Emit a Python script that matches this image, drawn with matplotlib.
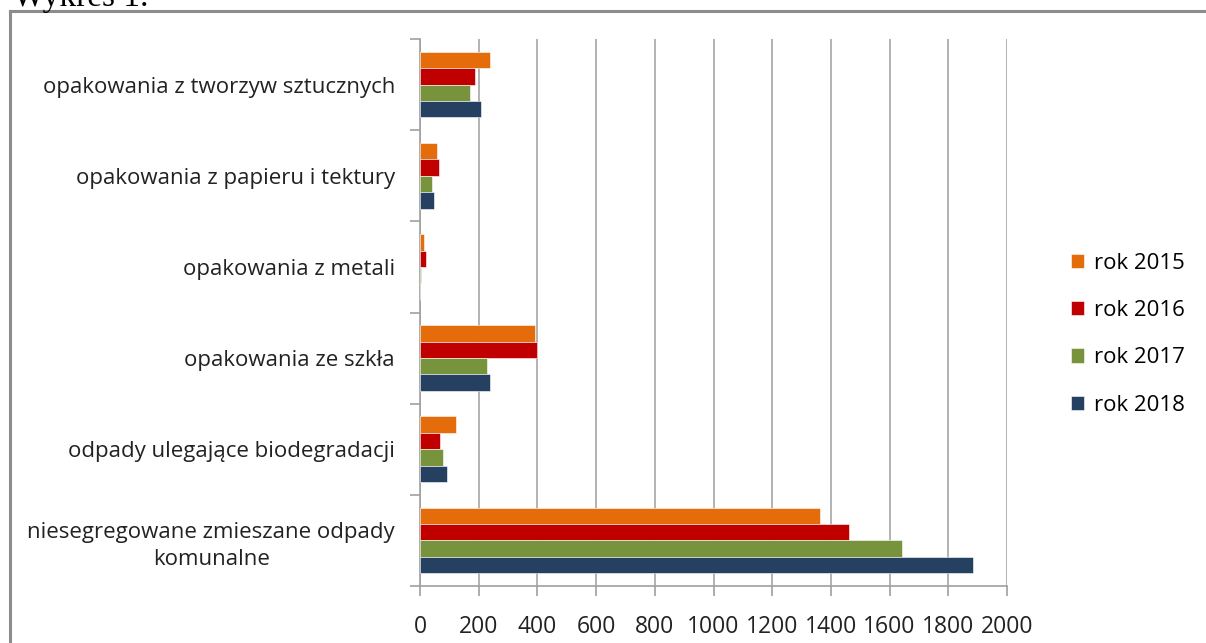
import matplotlib
matplotlib.use("Agg")
import matplotlib.pyplot as plt
import numpy as np
from matplotlib.lines import Line2D

categories = [
    "niesegregowane zmieszane odpady\nkomunalne",
    "odpady ulegające biodegradacji",
    "opakowania ze szkła",
    "opakowania z metali",
    "opakowania z papieru i tektury",
    "opakowania z tworzyw sztucznych",
]
series_names = ["rok 2015", "rok 2016", "rok 2017", "rok 2018"]
v2015 = [1364, 124, 393, 15, 57, 237]
v2016 = [1460, 69, 399, 19, 65, 187]
v2017 = [1641, 78, 229, 5, 40, 170]
v2018 = [1885, 91, 237, 0, 48, 208]
colors = ["#E46C0A", "#C00000", "#77933C", "#254061"]
xticks = [0, 200, 400, 600, 800, 1000, 1200, 1400, 1600, 1800, 2000]

W, H = 1206, 643
fig = plt.figure(figsize=(W / 100, H / 100), dpi=100)
fig.patch.set_facecolor("white")

font = ["Open Sans", "DejaVu Sans"]
plt.rcParams["font.family"] = font
FS = 16

ax_l, ax_r, ax_t, ax_b = 420, 1007, 39, 586
ax = fig.add_axes([ax_l / W, 1 - ax_b / H, (ax_r - ax_l) / W, (ax_b - ax_t) / H])

y = np.arange(len(categories))
bh = 0.18
data = [v2015, v2016, v2017, v2018]
offsets = [1.5 * bh, 0.5 * bh, -0.5 * bh, -1.5 * bh]
handles = []
for vals, off, c, name in zip(data, offsets, colors, series_names):
    b = ax.barh(y + off, vals, height=bh, color=c, edgecolor="white", linewidth=0.4, label=name, zorder=3)
    handles.append(b)

ax.set_xlim(0, 2000)
ax.set_ylim(-0.5, len(categories) - 0.5)
ax.set_xticks(xticks)
ax.set_xticklabels([str(t) for t in xticks], fontsize=16.5, color="#222222")
ax.set_yticks(y)
ax.set_yticklabels(categories, fontsize=FS, color="#222222", multialignment="center", linespacing=1.4)
ax.set_yticks(np.arange(-0.5, len(categories), 1.0), minor=True)
ax.tick_params(axis="y", which="major", length=0, pad=18)
ax.tick_params(axis="y", which="minor", length=7, width=1.2, color="#a0a0a0", direction="out")
ax.tick_params(axis="x", length=7, width=1.2, color="#a0a0a0", direction="out", pad=14)
ax.grid(axis="x", color="#a6a6a6", linewidth=1.2, zorder=0)
for s in ["top", "right"]:
    ax.spines[s].set_visible(False)
for s in ["left", "bottom"]:
    ax.spines[s].set_color("#a0a0a0")
    ax.spines[s].set_linewidth(1.2)

leg = fig.legend(handles=handles, labels=series_names, loc="upper left",
                 bbox_to_anchor=(1062 / W, 1 - 244 / H), frameon=False,
                 fontsize=FS, handlelength=0.6, handleheight=0.6,
                 handletextpad=0.45, labelspacing=1.18, borderaxespad=0)

# outer frame
fig.add_artist(Line2D([10 / W, 1.0], [1 - 11 / H, 1 - 11 / H], transform=fig.transFigure, color="#8c8c8c", linewidth=2.2))
fig.add_artist(Line2D([10 / W, 10 / W], [1 - 11 / H, 0], transform=fig.transFigure, color="#8c8c8c", linewidth=2.2))

fig.text(13 / W, 1 - 6 / H, "Wykres 1.", fontsize=24, family=["Liberation Serif"], va="baseline", ha="left", color="black")

fig.savefig("out.png", dpi=100)
